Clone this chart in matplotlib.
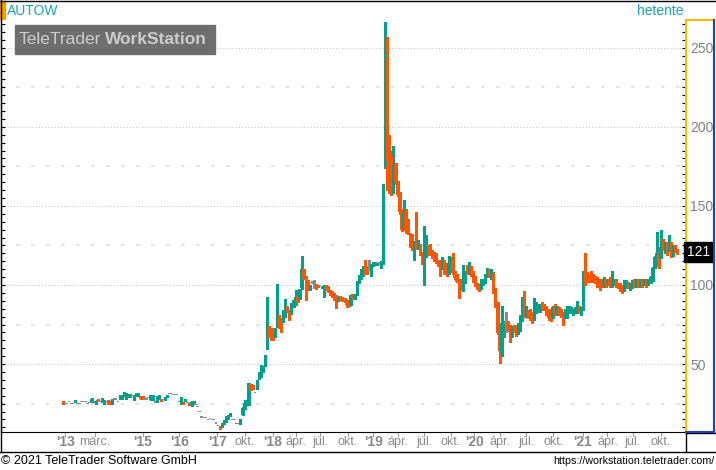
import matplotlib.pyplot as plt
import matplotlib.transforms as mtransforms
from matplotlib.lines import Line2D
from matplotlib.patches import Rectangle
import numpy as np

plt.rcParams['font.family'] = ['Liberation Sans', 'DejaVu Sans']
plt.rcParams['lines.scale_dashes'] = False

# weekly candles of AUTOW, one entry per traded week
opens = [
    26.6, 24.7, 24.7, 26.2, 24.7, 24.7, 26.0, 24.7, 24.7, 26.2,
    26.2, 26.2, 24.7, 25.3, 26.2, 26.2, 25.1, 27.6, 26.2, 26.2,
    25.1, 26.2, 27.2, 26.2, 25.1, 27.6, 27.6, 26.2, 28.1, 28.1,
    29.7, 28.3, 29.3, 29.3, 30.0, 27.6, 29.7, 29.7, 29.7, 29.5,
    27.6, 27.6, 28.3, 27.2, 27.2, 25.7, 26.2, 28.3, 27.6, 27.2,
    27.6, 29.3, 30.8, 30.8, 30.2, 30.2, 30.2, 26.2, 25.1, 25.7,
    26.8, 25.5, 25.1, 24.0, 25.1, 24.0, 22.6, 19.8, 16.2, 15.6,
    15.6, 14.6, 15.0, 14.6, 14.6, 12.4, 11.0, 10.7, 10.3, 12.1,
    13.5, 15.6, 17.1, 14.6, 14.6, 12.2, 12.0, 12.4, 17.7, 22.0,
    24.0, 24.5, 37.3, 36.7, 31.4, 34.6, 40.9, 42.0, 45.1, 48.7,
    59.9, 74.1, 72.6, 72.6, 67.3, 73.6, 81.0, 78.9, 76.8, 80.0,
    86.3, 84.2, 82.0, 86.3, 87.4, 93.0, 91.6, 97.9, 109.9, 105.3,
    103.2, 96.8, 101.0, 101.0, 100.4, 99.8, 99.4, 97.9, 99.0, 100.0,
    98.9, 96.8, 95.8, 94.7, 93.7, 90.0, 92.6, 92.2, 91.6, 90.5,
    89.5, 87.4, 94.3, 91.6, 93.7, 102.0, 105.0, 107.0, 112.0, 111.0,
    109.5, 107.0, 113.0, 113.0, 113.0, 113.8, 112.0, 114, 176, 244,
    193, 182, 160, 176, 165, 158, 147, 136, 147, 141,
    132, 131, 123, 127, 124, 125, 120, 114, 119, 124,
    125, 121, 120, 119, 115, 115, 110.6, 115, 113, 107.5,
    109.5, 115, 108.5, 106.3, 103.2, 103, 96.8, 102.1, 110.6, 107.4,
    111.6, 108.5, 105, 101, 100, 98, 101, 102, 106, 109,
    105, 107, 97, 88, 69.5, 57, 68, 76, 76, 74,
    68, 74, 74, 70, 72, 78, 91, 81, 83, 84,
    82, 79, 83, 84, 84, 88, 87, 86, 84, 82,
    80, 87, 82, 85, 84, 82, 80, 80, 83, 83,
    82, 83, 83, 86, 82, 85, 110, 107, 106, 107,
    106, 105, 104, 103, 103, 100, 103, 101, 104, 100,
    101, 103, 100, 100, 99, 97, 99, 101, 98, 98.5,
    103, 100, 103, 100, 103, 100.5, 103, 100.5, 102, 103.2,
    111.6, 113.7, 119, 117.9, 128.5, 121.1, 126.4, 122.2, 126.4, 119,
    124.3, 122.2,
]
highs = [
    26.8, 24.7, 24.7, 26.2, 24.7, 24.7, 27.2, 24.7, 24.7, 26.2,
    26.2, 26.2, 24.7, 25.3, 28.3, 26.2, 26.8, 27.8, 26.2, 28.5,
    27.4, 26.2, 27.4, 26.4, 27.8, 27.6, 27.6, 26.2, 30.4, 30.2,
    32.3, 31.6, 31.2, 31.0, 30.0, 30.6, 31.6, 31.4, 29.9, 29.7,
    27.6, 27.6, 28.3, 30.6, 30.4, 25.7, 29.5, 30.4, 27.8, 27.2,
    29.0, 30.4, 30.8, 30.8, 30.2, 30.2, 30.2, 26.2, 29.1, 25.9,
    27.8, 25.5, 25.3, 26.4, 26.8, 24.0, 22.6, 19.8, 16.2, 15.6,
    15.6, 14.6, 15.0, 14.6, 14.6, 12.4, 11.0, 10.8, 12.6, 14.8,
    16.9, 17.9, 19.3, 14.6, 14.6, 12.2, 12.0, 15.4, 23.0, 27.6,
    27.4, 38.0, 37.5, 36.9, 31.4, 40.1, 45.3, 49.4, 48.9, 55.8,
    92.6, 74.3, 72.8, 72.8, 72.8, 100.4, 81.2, 79.1, 83.9, 90.9,
    86.5, 84.4, 88.6, 90.7, 96.8, 93.2, 97.5, 118.4, 110.1, 105.5,
    103.4, 100.2, 102.7, 103.2, 100.6, 100.0, 99.4, 99.6, 99.6, 100.2,
    99.1, 97.0, 96.0, 94.9, 93.9, 92.8, 92.8, 92.4, 91.8, 90.7,
    89.7, 93.9, 94.5, 94.5, 102.3, 106.5, 110.0, 112.0, 116.0, 112.0,
    115.8, 113.5, 114.5, 114.5, 114.0, 114.0, 115.0, 164, 266, 257,
    195, 185, 188, 177, 166, 159, 148, 154, 148, 142,
    133, 132, 128, 146, 128.5, 126, 121, 137, 131.7, 125,
    126, 122, 121, 120, 116, 116, 118, 116, 114, 118.5,
    118, 120, 109, 107, 104, 104, 112.7, 109, 112.7, 114.8,
    112, 109, 106, 101.5, 100.5, 104, 104, 107, 111, 110,
    110, 108, 98, 89, 70, 86.7, 77, 83, 77, 75,
    74, 75, 75, 76, 81, 92.6, 96, 87, 84, 85,
    83, 92, 89, 88, 88, 89, 88, 87, 85, 83,
    87, 88, 87, 86, 85, 83, 85, 87, 87, 86,
    85, 86, 90, 87, 86, 109, 120, 108, 107, 109,
    107, 106, 105, 104, 104, 105, 104, 104, 105, 109,
    104, 104, 101, 101, 100, 103, 103, 102, 101, 103,
    104, 104, 104, 104, 104, 104, 104, 104, 105.5, 111.6,
    118.5, 133.8, 120, 134.8, 129, 127, 127, 131.6, 127, 125,
    125, 123,
]
lows = [
    24.8, 24.7, 24.7, 26.2, 24.7, 24.7, 26.0, 24.7, 24.7, 26.2,
    26.2, 26.2, 24.7, 25.3, 26.2, 26.2, 25.0, 26.5, 26.2, 26.0,
    25.0, 26.2, 25.0, 25.0, 25.0, 27.6, 27.6, 26.2, 28.0, 28.0,
    29.5, 28.2, 29.2, 29.0, 30.0, 27.4, 29.5, 29.6, 28.0, 28.0,
    27.6, 27.6, 28.3, 27.0, 27.0, 25.7, 26.0, 28.1, 26.8, 27.2,
    27.4, 29.1, 30.8, 30.8, 30.2, 30.2, 30.2, 26.2, 24.9, 24.5,
    26.6, 25.5, 24.3, 23.8, 25.0, 24.0, 22.6, 19.8, 16.2, 15.6,
    15.6, 14.6, 15.0, 14.6, 14.6, 12.4, 11.0, 9.2, 10.2, 12.0,
    13.4, 15.5, 17.0, 14.6, 14.6, 12.0, 12.0, 12.3, 17.6, 21.9,
    23.9, 24.4, 33.3, 34.4, 31.4, 34.4, 40.8, 41.8, 45.0, 48.5,
    59.8, 67.1, 65.0, 65.2, 67.2, 73.5, 72.6, 70.5, 76.6, 79.8,
    83.0, 77.9, 81.8, 86.1, 87.2, 89.4, 91.4, 97.7, 104.0, 90.5,
    96.6, 96.6, 101.0, 97.9, 97.7, 98.8, 99.4, 97.8, 92.6, 96.6,
    95.6, 93.5, 92.4, 90.3, 85.2, 89.8, 90.3, 89.9, 89.3, 86.3,
    86.5, 87.2, 91.4, 91.4, 93.5, 101.0, 104.0, 106.0, 107.0, 107.0,
    109.5, 106.0, 112.0, 112.5, 112.5, 113.5, 111.0, 113, 174, 160,
    158, 157, 158, 164, 156, 145, 134, 135, 133, 132,
    124, 122, 116, 123, 123, 119, 113, 100, 118, 119,
    119, 117, 115, 114, 112, 106, 110, 107, 106, 107,
    109, 107, 104, 102, 91.6, 97, 96, 101, 107, 107,
    106, 102, 99.5, 97.5, 96.5, 97.5, 100, 101, 105, 105,
    104, 95, 86, 69, 50.4, 55, 67, 70.5, 71, 64,
    67, 70, 68, 69, 71, 77, 80, 80, 79, 78,
    76, 78, 82, 83, 83, 84, 84, 81, 78, 77,
    79, 81, 81, 81, 80, 75, 79, 79, 82, 82,
    81, 82, 82, 82, 81, 84, 100, 102, 102, 102,
    102, 101, 99, 97, 99, 99, 99, 100, 99, 99,
    100, 99, 98, 96, 95, 96, 98, 98, 97, 98,
    99, 99, 99, 99, 99, 100, 99, 100, 101.5, 102.5,
    111, 113, 111, 117, 122, 120.5, 119, 121.5, 117.5, 118.5,
    121, 119.5,
]
closes = [
    24.9, 24.7, 24.7, 26.2, 24.7, 24.7, 26.8, 24.7, 24.7, 26.2,
    26.2, 26.2, 24.7, 25.3, 28.0, 26.2, 26.6, 26.6, 26.2, 28.3,
    27.2, 26.2, 25.1, 25.1, 27.6, 27.6, 27.6, 26.2, 30.2, 30.0,
    32.1, 31.4, 31.0, 30.8, 30.0, 30.4, 31.4, 31.2, 28.1, 28.1,
    27.6, 27.6, 28.3, 30.4, 30.2, 25.7, 29.3, 30.4, 26.8, 27.2,
    28.9, 30.4, 30.8, 30.8, 30.2, 30.2, 30.2, 26.2, 28.9, 24.5,
    27.6, 25.5, 24.3, 26.2, 26.6, 24.0, 22.6, 19.8, 16.2, 15.6,
    15.6, 14.6, 15.0, 14.6, 14.6, 12.4, 11.0, 9.5, 12.4, 14.6,
    16.7, 17.7, 18.4, 14.6, 14.6, 12.0, 12.0, 15.2, 22.0, 25.1,
    27.2, 37.8, 33.5, 34.6, 31.4, 39.9, 45.1, 47.3, 48.7, 54.6,
    72.6, 67.3, 65.2, 68.4, 72.6, 81.0, 75.7, 76.8, 83.7, 86.3,
    83.1, 81.0, 88.4, 90.5, 92.6, 89.5, 97.3, 109.9, 104.2, 101.0,
    96.8, 100.0, 101.0, 101.0, 97.9, 98.9, 99.4, 99.4, 99.4, 96.8,
    95.8, 93.7, 92.6, 90.5, 89.5, 92.6, 90.5, 90.1, 89.5, 87.4,
    86.7, 93.7, 91.6, 94.0, 102.1, 106.0, 109.5, 111.0, 108.0, 108.0,
    109.5, 113.0, 114.0, 114.3, 113.8, 113.8, 114.0, 163, 246, 178,
    170, 160, 176, 165, 157, 146, 135, 146, 134, 133,
    125, 123, 127, 124, 127, 120, 114, 123, 123, 120,
    120, 118, 116, 115, 113, 110, 117, 107.5, 106.5, 113.7,
    117, 107.5, 104.2, 102.1, 96.8, 98, 105.3, 108.5, 107.4, 111.6,
    106.3, 102.1, 100, 97.9, 96.8, 103, 103, 106, 108, 106,
    109, 96, 88, 69.5, 58, 75.7, 76, 76, 72, 68,
    73, 71, 69, 75, 80, 87, 81, 86, 80, 80,
    77, 88, 88, 87, 87, 85, 85, 82, 79, 78,
    86, 82, 86, 82, 81, 80, 84, 86, 86, 85,
    84, 85, 86, 83, 85, 108, 101, 103, 103, 103,
    103, 102, 100, 100, 100, 103, 100, 103, 100, 108,
    103, 100, 99, 97, 96, 102, 102, 98.5, 100.5, 102,
    99.5, 102.7, 99.5, 103, 100, 103, 100, 103.5, 105.3, 110.6,
    117.9, 120, 111.6, 124.3, 122.2, 126.4, 121.1, 127.4, 117.9, 124.3,
    121.1, 121,
]

# x axis labels (weeks are plotted by trading index, not calendar date)
tick_weeks = [1.2, 15.7, 39.2, 56.9, 75.7, 89.2, 102.7, 114.2, 126.2, 139.5,
              152.2, 164.0, 177.2, 190.0, 201.5, 214.0, 227.0, 240.4,
              254.9, 266.9, 279.2, 293.1]
tick_labels = ["'13", "márc.", "'15", "'16", "'17", "okt.", "'18", "ápr.",
               "júl.", "okt.", "'19", "ápr.", "júl.", "okt.", "'20", "ápr.",
               "júl.", "okt.", "'21", "ápr.", "júl.", "okt."]
last_price = 121

W, H = 716, 470
UP, DOWN, FLAT = '#00a08c', '#ff5500', '#8c8c8c'


def fx(px):
    return px / W


def fy(py):
    return 1 - py / H


fig = plt.figure(figsize=(W / 100, H / 100), dpi=100)
ax = fig.add_axes([fx(1), fy(432), (686 - 1) / W, (432 - 20) / H])

o = np.array(opens)
h = np.array(highs)
l = np.array(lows)
c = np.array(closes)
x = np.arange(len(c))
col = np.where(c > o, UP, np.where(c < o, DOWN, FLAT))

# grid: dotted every 50, dashed in between
for v in range(50, 251, 50):
    ax.axhline(v, color='#c4c4c4', lw=0.8, ls=(0, (0.75, 1.5)), zorder=0)
for v in range(25, 251, 50):
    ax.axhline(v, color='#dedede', lw=1.2, ls=(0, (2.6, 8.2)), zorder=0)

ax.vlines(x, l, h, colors=col, lw=0.8, antialiased=False, zorder=2)
body = np.maximum(np.abs(c - o), 0.7)
ax.bar(x, body, bottom=np.minimum(o, c), width=1.2, color=col,
       linewidth=0, antialiased=False, zorder=3)

ax.set_xlim((1 - 63) / 2.04, (686 - 63) / 2.04)
ax.set_ylim(100 - 147 / 1.5815, 100 + 265 / 1.5815)

ax.spines['top'].set_visible(False)
ax.spines['left'].set_color('black')
ax.spines['bottom'].set_color('black')
ax.spines['right'].set_color('#f0c000')
ax.spines['right'].set_linewidth(1.5)

ax.set_xticks([])
ax.set_yticks(range(50, 251, 50))
ax.set_yticks(range(10, 266, 5), minor=True)
ax.tick_params(axis='y', which='both', direction='in', length=3, width=0.8,
               color='black', left=True, right=True, labelleft=False,
               labelright=True, labelsize=10, labelcolor='#808080', pad=3)

# last price box
ax.text(1.0015, last_price, str(last_price), color='white', fontsize=10,
        ha='left', va='center',
        transform=mtransforms.blended_transform_factory(ax.transAxes, ax.transData),
        bbox=dict(boxstyle='square,pad=0.2', fc='black', ec='black'), zorder=5)

# x labels in the band below
for xi, lab in zip(tick_weeks, tick_labels):
    year = lab.startswith("'")
    xp = xi * 2.04 + 63
    ax.text(xi, -10 / 412, lab, transform=ax.get_xaxis_transform(),
            ha='center', va='center', color='#888888',
            fontsize=10 if year else 9, fontweight='bold' if year else 'normal',
            clip_on=False)
    fig.add_artist(Line2D([fx(xp), fx(xp)], [fy(433), fy(436)], color='#999999', lw=0.8))

# frame lines
frame = dict(color='black', lw=1)
fig.add_artist(Line2D([0, 1], [fy(0.5), fy(0.5)], **frame))
fig.add_artist(Line2D([fx(0.5), fx(0.5)], [fy(0), fy(452)], **frame))
fig.add_artist(Line2D([0, 1], [fy(452), fy(452)], **frame))
fig.add_artist(Line2D([fx(686), 1], [fy(432.5), fy(432.5)], **frame))
fig.add_artist(Line2D([fx(686), fx(686)], [fy(432), fy(452)], **frame))
fig.add_artist(Line2D([fx(686), fx(713)], [fy(20), fy(20)], color='#f0c000', lw=1.5))
fig.add_artist(Line2D([fx(713.5), fx(713.5)], [fy(20), fy(432)], color='#1c3fc4', lw=1.5))
fig.add_artist(Line2D([fx(686), fx(713)], [fy(431.5), fy(431.5)], color='#1c3fc4', lw=1.5))

# header
fig.add_artist(Rectangle((0, fy(19)), fx(5), 18 / H, color='#f5a000'))
fig.text(fx(7), fy(11), 'AUTOW', color='#1aa3b8', fontsize=10, va='center')
fig.text(fx(683), fy(11), 'hetente', color='#1aa3b8', fontsize=10, va='center', ha='right')

# watermark
fig.add_artist(Rectangle((fx(15), fy(54)), 200 / W, 29 / H, color='#6e6e6e', zorder=6))
fig.text(fx(101), fy(39.5), 'TeleTrader', color='#cccccc', fontsize=12.5,
         va='center', ha='right', zorder=7)
fig.text(fx(105), fy(39.5), 'WorkStation', color='#cccccc', fontsize=12.5,
         fontweight='bold', va='center', zorder=7)

# footer
fig.text(fx(1), fy(461), '© 2021 TeleTrader Software GmbH', fontsize=9, va='center')
fig.text(fx(714), fy(461), 'https://workstation.teletrader.com/', fontsize=7.7,
         va='center', ha='right')

fig.savefig('out.png', dpi=100)
